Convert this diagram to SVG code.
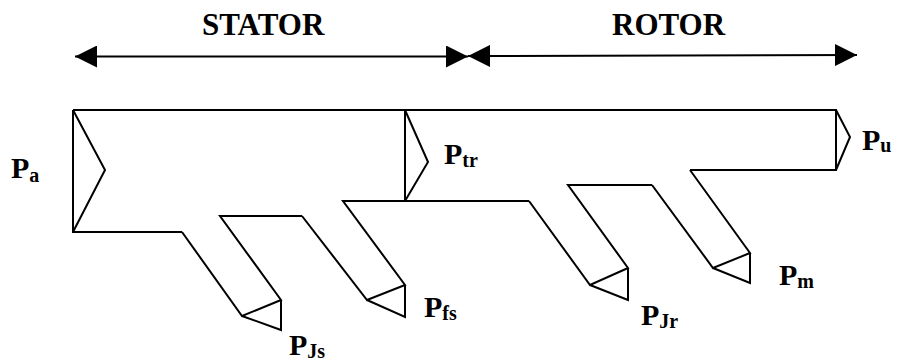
<svg xmlns="http://www.w3.org/2000/svg" width="898" height="362" viewBox="0 0 898 362">
  <style>
    .ln { fill: none; stroke: #000; stroke-width: 2; stroke-linejoin: miter; }
    .ttl { font-family: "Liberation Serif", "Times New Roman", serif; font-weight: bold; font-size: 31px; fill: #000; }
    .lbl { font-family: "Liberation Serif", "Times New Roman", serif; font-weight: bold; font-size: 30px; fill: #000; }
    .sub { font-size: 20px; }
  </style>
  <defs>
    <marker id="head" viewBox="0 0 22 22" refX="22" refY="11" markerWidth="22" markerHeight="22" markerUnits="userSpaceOnUse" orient="auto-start-reverse">
      <path d="M0,0 L22,11 L0,22 Z" fill="#000"/>
    </marker>
  </defs>

  <rect width="898" height="362" fill="#fff"/>

  <g id="connectors">
    <line id="stator-arrow" class="ln" x1="75" y1="56.5" x2="468" y2="56.5" marker-start="url(#head)" marker-end="url(#head)"/>
    <line id="rotor-arrow" class="ln" x1="468" y1="56" x2="857" y2="55" marker-start="url(#head)" marker-end="url(#head)"/>
  </g>

  <g id="titles">
    <text class="ttl" x="202" y="35">STATOR</text>
    <text class="ttl" x="612" y="35">ROTOR</text>
  </g>

  <g id="flow">
    <g id="main-band">
      <path class="ln" d="M73,110 H836 V170 H690"/>
      <path class="ln" d="M73,110 V232 H182"/>
      <path class="ln" d="M73,110 L105,170 L73,232"/>
      <path class="ln" d="M405,110 V201"/>
      <path class="ln" d="M405,110 L428,162 L405,201"/>
      <path class="ln" d="M836,110 L850,137 L836,170"/>
    </g>
    <g id="branch-pjs">
      <path class="ln" d="M182,232 L242,316 L281,300 L220,216 H302"/>
      <path class="ln" d="M242,316 L281,330 V300"/>
    </g>
    <g id="branch-pfs">
      <path class="ln" d="M302,216 L367,300 L405,285 L343,201 H529"/>
      <path class="ln" d="M367,300 L405,317 V285"/>
    </g>
    <g id="branch-pjr">
      <path class="ln" d="M529,201 L590,285 L628,268 L568,185 H652"/>
      <path class="ln" d="M590,285 L628,300 V268"/>
    </g>
    <g id="branch-pm">
      <path class="ln" d="M652,185 L713,268 L750,253 L690,170"/>
      <path class="ln" d="M713,268 L750,283 V253"/>
    </g>
  </g>

  <g id="labels">
    <g id="label-pa"><text class="lbl" x="11" y="178">P<tspan class="sub" dy="4">a</tspan></text></g>
    <g id="label-ptr"><text class="lbl" x="444" y="164">P<tspan class="sub" dy="3">tr</tspan></text></g>
    <g id="label-pfs"><text class="lbl" x="424" y="317">P<tspan class="sub" dy="3">fs</tspan></text></g>
    <g id="label-pjs"><text class="lbl" x="289" y="355">P<tspan class="sub" dy="3">Js</tspan></text></g>
    <g id="label-pjr"><text class="lbl" x="641" y="325">P<tspan class="sub" dy="3">Jr</tspan></text></g>
    <g id="label-pm"><text class="lbl" x="779" y="285">P<tspan class="sub" dy="3">m</tspan></text></g>
    <g id="label-pu"><text class="lbl" x="862" y="150">P<tspan class="sub" dy="2">u</tspan></text></g>
  </g>
</svg>
